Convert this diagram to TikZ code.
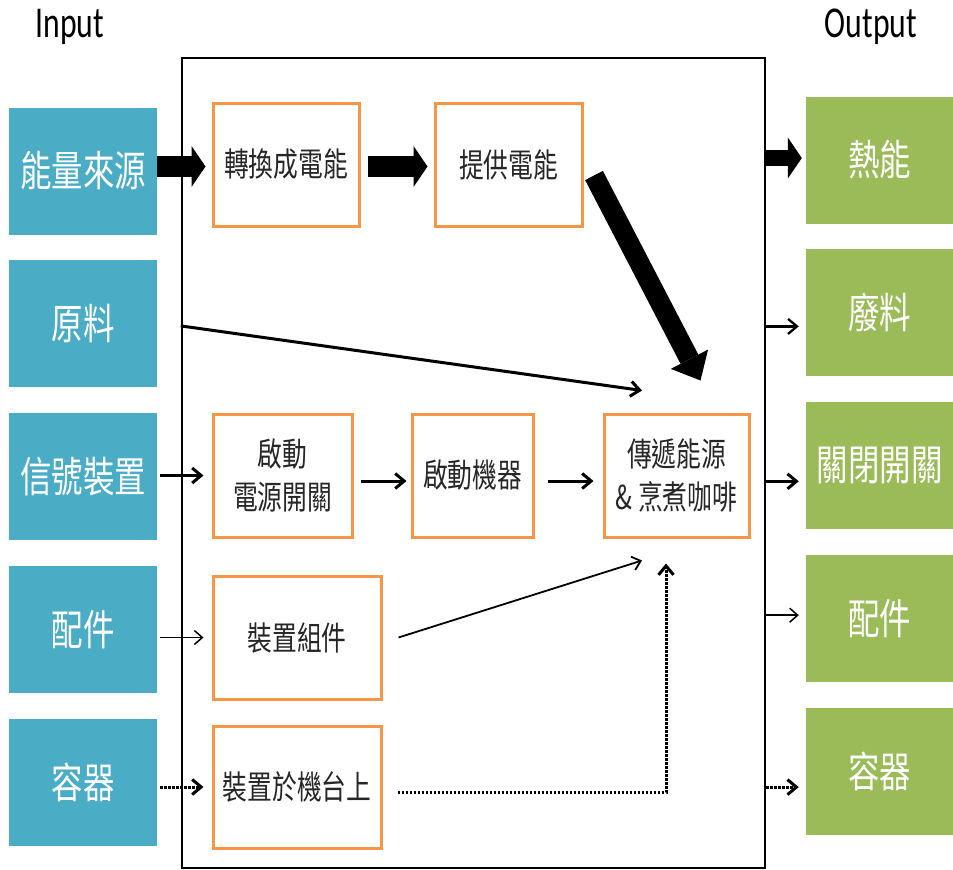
\documentclass[tikz,border=0pt]{standalone}
\usepackage{fontspec}
\setmainfont[FakeStretch=0.72]{Carlito}
\newfontfamily\cjk[FakeStretch=0.75]{Noto Sans CJK TC}
\usetikzlibrary{arrows.meta,calc}
\definecolor{inblue}{RGB}{75,172,198}
\definecolor{outgreen}{RGB}{155,187,89}
\definecolor{steporange}{RGB}{247,150,70}
\newcommand{\bigfont}{\cjk\fontsize{42}{50}\selectfont}
\newcommand{\boxfont}{\cjk\fontsize{33}{43}\selectfont}
\begin{document}
\begin{tikzpicture}[x=1pt,y=-1pt,
    inbox/.style={fill=inblue,text=white,font=\bigfont,minimum width=148pt,minimum height=127pt,inner sep=0pt},
    outbox/.style={fill=outgreen,text=white,font=\bigfont,minimum width=147pt,minimum height=127pt,inner sep=0pt},
    stepbox/.style={draw=steporange,line width=3pt,text=black!85,font=\boxfont,align=center,minimum height=123pt,inner sep=0pt},
    fatarrow/.style={line width=21pt,-{Triangle[length=14pt,width=41pt,line width=0pt]}},
    medarrow/.style={line width=3pt,-{Straight Barb[length=9pt,width=15pt]}},
    thinarrow/.style={line width=1.5pt,-{Straight Barb[length=8pt,width=14pt]}},
    dotarrow/.style={line width=3pt,dash pattern=on 2.5pt off 1.5pt,-{Straight Barb[length=9pt,width=15pt]}}]
\useasboundingbox (0,0) rectangle (953,870);
\node[anchor=base,font=\fontsize{44}{50}\selectfont] (intitle) at (70,37) {Input};
\node[anchor=base,font=\fontsize{44}{50}\selectfont] (outtitle) at (871,37) {Output};
\node[draw,line width=2.5pt,minimum width=583pt,minimum height=810pt] (frame) at (473.5,463) {};
% inputs and outputs
\foreach \n/\t [count=\i] in {energy/能量來源,raw/原料,signal/信號裝置,part/配件,cup/容器}
    \node[inbox] (\n) at (83,{171+152.9*(\i-1)}) {\t};
\foreach \n/\t [count=\i] in {heat/熱能,waste/廢料,close/關閉開關,partout/配件,cupout/容器}
    \node[outbox] (\n) at (879.5,{160+152.9*(\i-1)}) {\t};
% steps
\node[stepbox,minimum width=146pt] (conv) at (286,164.5) {轉換成電能};
\node[stepbox,minimum width=147pt] (supply) at (508.5,164.5) {提供電能};
\node[stepbox,minimum width=139pt] (switch) at (282.5,475.5) {啟動\\電源開關};
\node[stepbox,minimum width=121pt] (start) at (472.5,475.5) {啟動機器};
\node[stepbox,minimum width=145pt] (transfer) at (676.5,475.5) {傳遞能源\\\& 烹煮咖啡};
\node[stepbox,minimum width=168pt] (comp) at (297,637.5) {裝置組件};
\node[stepbox,minimum width=168pt,minimum height=122pt] (mount) at (297,787) {裝置於機台上};
% arrows
\draw[fatarrow] ($(energy.east|-conv.west)+(0,2)$) -- ($(conv.west)+(-6,2)$);
\draw[fatarrow] ($(conv.east)+(7,2)$) -- ($(supply.west)+(-6,2)$);
\draw[fatarrow,line width=20pt,-{Triangle[length=24pt,width=42pt,line width=0pt]}] ($(supply.east)+(10.5,11)$) -- ($(transfer.north)+(24,-32)$);
\draw[medarrow] ($(frame.west|-raw.east)+(0,2)$) -- ($(transfer.north)+(-34.5,-22)$);
\draw[medarrow] ($(signal.east|-switch.west)+(3,0)$) -- ($(switch.west)+(-8,0)$);
\draw[medarrow] ($(switch.east)+(7,5.5)$) -- ($(start.west)+(-4,5.5)$);
\draw[medarrow] ($(start.east)+(13,5.5)$) -- ($(transfer.west)+(-9,5.5)$);
\draw[thinarrow] ($(part.east|-comp.west)+(3,0)$) -- ($(comp.west)+(-8,0)$);
\draw[thinarrow,line width=1.8pt] ($(comp.east)+(16,0)$) -- ($(transfer.south)+(-34.5,22)$);
\draw[dotarrow] ($(cup.east|-mount.west)+(3,0)$) -- ($(mount.west)+(-8,0)$);
\draw[dotarrow] ($(mount.east)+(15,5)$) -| ($(transfer.south)+(-10.5,25)$);
% outputs
\draw[fatarrow,line width=16pt] ($(frame.east|-heat.west)+(0,-2)$) -- ($(heat.west)+(-4,-2)$);
\draw[medarrow,line width=2.3pt] ($(frame.east|-waste.west)+(0,13.5)$) -- ($(waste.west)+(-7,13.5)$);
\draw[medarrow] ($(frame.east|-close.west)+(0,15.5)$) -- ($(close.west)+(-7,15.5)$);
\draw[thinarrow] ($(frame.east|-partout.west)+(0,-3.5)$) -- ($(partout.west)+(-7,-3.5)$);
\draw[dotarrow] ($(frame.east|-cupout.west)+(0,15.5)$) -- ($(cupout.west)+(-7,15.5)$);
\end{tikzpicture}
\end{document}
